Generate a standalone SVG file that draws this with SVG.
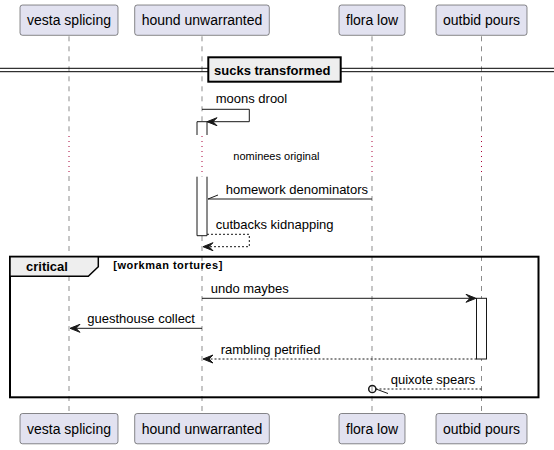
<svg xmlns="http://www.w3.org/2000/svg" width="554" height="450" viewBox="0 0 554 450">
<style>
.pbox{fill:#E2E2F0;stroke:#181818;stroke-width:0.5}
.ptxt{font-family:"Liberation Sans",Arial,sans-serif;font-size:14px;fill:#000}
.life{stroke:#181818;stroke-width:0.5;stroke-dasharray:5,5;fill:none}
.dly{stroke:#A80036;stroke-width:1;stroke-dasharray:1,4;fill:none}
.msg{font-family:"Liberation Sans",Arial,sans-serif;font-size:13px;fill:#000}
.sol{stroke:#181818;stroke-width:1;fill:none}
.dsh{stroke:#181818;stroke-width:1;stroke-dasharray:2,2;fill:none}
.ah{fill:#181818;stroke:#181818;stroke-width:1}
.act{fill:#FFFFFF;stroke:#181818;stroke-width:1}
</style>
<rect width="554" height="450" fill="#FFFFFF"/>
<g id="lifelines">
<path class="life" d="M69,36.3 V135 M69,176 V413.5"/>
<path class="life" d="M202,36.3 V135 M202,176 V413.5"/>
<path class="life" d="M372,36.3 V135 M372,176 V413.5"/>
<path class="life" d="M481.5,36.3 V135 M481.5,176 V413.5"/>
<path class="dly" d="M69,136 V176 M202,136 V176 M372,136 V176 M481.5,136 V176"/>
</g>
<g id="divider">
<line x1="0" y1="68.3" x2="554" y2="68.3" stroke="#000" stroke-width="1"/>
<line x1="0" y1="71.7" x2="554" y2="71.7" stroke="#000" stroke-width="1"/>
<rect x="208.3" y="57.3" width="132.4" height="24.4" fill="#EEEEEE" stroke="#000" stroke-width="2"/>
<text x="214" y="75" style="font-family:'Liberation Sans',Arial,sans-serif;font-size:13px;font-weight:bold">sucks transformed</text>
</g>
<g id="activations">
<rect x="197" y="121.7" width="10" height="13.3" fill="#FFFFFF" stroke="none"/>
<path class="sol" d="M197,135 V121.7 H207 V135"/>
<rect x="197" y="176.7" width="10" height="59" fill="#FFFFFF" stroke="none"/>
<path class="sol" d="M197,176.7 V235.7 H207 V176.7"/>
<rect class="act" x="476.5" y="298.3" width="10" height="60.7"/>
</g>
<g id="group-critical">
<rect x="10" y="256.7" width="528.5" height="140.6" fill="none" stroke="#000" stroke-width="2"/>
<polygon points="10,256.7 98.3,256.7 98.3,266.7 88.3,276.3 10,276.3" fill="#EEEEEE" stroke="#000" stroke-width="1.5"/>
<text x="26" y="271" style="font-family:'Liberation Sans',Arial,sans-serif;font-size:13px;font-weight:bold">critical</text>
<text x="113.3" y="269" textLength="109" lengthAdjust="spacing" style="font-family:'Liberation Sans',Arial,sans-serif;font-size:11px;font-weight:bold">[workman tortures]</text>
</g>
<g id="connectors">
<path class="sol" d="M202,109.3 H249.3 V121.7 H207"/>
<polygon class="ah" points="207,121.7 217,117.7 213,121.7 217,125.7"/>
<text class="msg" x="215.7" y="103">moons drool</text>
<text x="233.3" y="160" style="font-family:'Liberation Sans',Arial,sans-serif;font-size:11px">nominees original</text>
<line class="sol" x1="372" y1="199" x2="208" y2="199"/>
<line class="sol" x1="208" y1="199" x2="218" y2="195"/>
<text class="msg" x="225.7" y="194">homework denominators</text>
<path class="dsh" d="M207,234.3 H249.3 V246.7 H204"/>
<polygon class="ah" points="203,246.7 213,242.7 209,246.7 213,250.7"/>
<text class="msg" x="215.7" y="229">cutbacks kidnapping</text>
<line class="sol" x1="202" y1="298.3" x2="474" y2="298.3"/>
<polygon class="ah" points="476,298.3 466,294.3 470,298.3 466,302.3"/>
<text class="msg" x="210.7" y="293">undo maybes</text>
<line class="sol" x1="202" y1="328.3" x2="72" y2="328.3"/>
<polygon class="ah" points="70,328.3 80,324.3 76,328.3 80,332.3"/>
<text class="msg" x="87.3" y="323.3">guesthouse collect</text>
<line class="dsh" x1="476.5" y1="359" x2="205" y2="359"/>
<polygon class="ah" points="203,359 213,355 209,359 213,363"/>
<text class="msg" x="220.7" y="354">rambling petrified</text>
<line class="dsh" x1="481.5" y1="389" x2="376" y2="389"/>
<line class="sol" x1="376" y1="389" x2="388" y2="393.5"/>
<circle cx="372.3" cy="389" r="3.6" fill="none" stroke="#181818" stroke-width="1.5"/>
<text class="msg" x="390.7" y="384">quixote spears</text>
</g>
<g id="p-vesta">
<rect class="pbox" x="20" y="5" width="98" height="30.3" rx="2.5"/>
<text class="ptxt" x="27" y="25">vesta splicing</text>
<rect class="pbox" x="20" y="413.5" width="98" height="30.3" rx="2.5"/>
<text class="ptxt" x="27" y="433.5">vesta splicing</text>
</g>
<g id="p-hound">
<rect class="pbox" x="134.7" y="5" width="134.6" height="30.3" rx="2.5"/>
<text class="ptxt" x="141.7" y="25">hound unwarranted</text>
<rect class="pbox" x="134.7" y="413.5" width="134.6" height="30.3" rx="2.5"/>
<text class="ptxt" x="141.7" y="433.5">hound unwarranted</text>
</g>
<g id="p-flora">
<rect class="pbox" x="339" y="5" width="66" height="30.3" rx="2.5"/>
<text class="ptxt" x="346" y="25">flora low</text>
<rect class="pbox" x="339" y="413.5" width="66" height="30.3" rx="2.5"/>
<text class="ptxt" x="346" y="433.5">flora low</text>
</g>
<g id="p-outbid">
<rect class="pbox" x="436" y="5" width="91" height="30.3" rx="2.5"/>
<text class="ptxt" x="443" y="25">outbid pours</text>
<rect class="pbox" x="436" y="413.5" width="91" height="30.3" rx="2.5"/>
<text class="ptxt" x="443" y="433.5">outbid pours</text>
</g>
</svg>
